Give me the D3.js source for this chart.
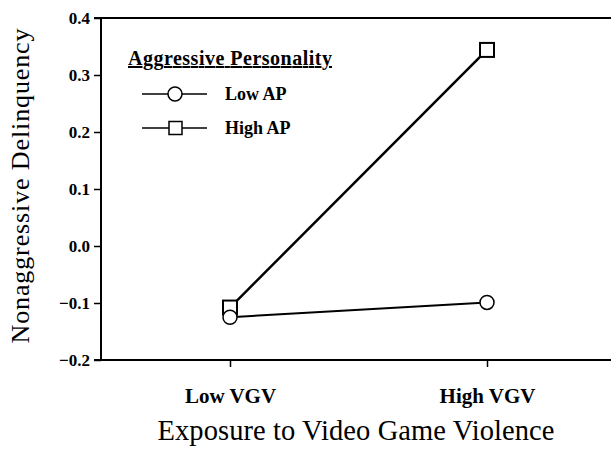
<!DOCTYPE html>
<html>
<head>
<meta charset="utf-8">
<script src="https://cdn.jsdelivr.net/npm/d3@7"></script>
<style>
  body { margin: 0; background: #fff; }
  svg text { font-family: "Liberation Serif", "DejaVu Serif", serif; }
</style>
</head>
<body>
<div id="chart"></div>
<script>
var categories = ["Low VGV", "High VGV"];
var seriesNames = ["Low AP", "High AP"];
var lowAP = [-0.125, -0.099];
var highAP = [-0.108, 0.344];
var yTicks = [-0.2, -0.1, 0.0, 0.1, 0.2, 0.3, 0.4];

var W = 611, H = 449;
var margin = {top: 18, right: 0, bottom: 89, left: 101};
var width = W - margin.left - margin.right,
    height = H - margin.top - margin.bottom;

var svg = d3.select("#chart").append("svg")
    .attr("width", W)
    .attr("height", H);

var g = svg.append("g")
    .attr("transform", "translate(" + margin.left + "," + margin.top + ")");

var x = d3.scalePoint().domain(categories).range([129, 386]);
var y = d3.scaleLinear().domain([-0.2, 0.4]).range([height, 0]);

// y axis
var yAxis = g.append("g")
    .call(d3.axisLeft(y).tickValues(yTicks).tickFormat(d3.format(".1f")).tickSize(7).tickPadding(4));
yAxis.select(".domain").attr("stroke-width", 2).attr("d", "M0," + (height + 1) + "V-1");
yAxis.selectAll("line").attr("stroke-width", 1.5);
yAxis.selectAll("text")
    .style("font-family", "'Liberation Serif', serif")
    .style("font-size", "17px").style("font-weight", "bold");

// top frame line
g.append("line")
    .attr("x1", -7).attr("x2", width)
    .attr("y1", 0).attr("y2", 0)
    .attr("stroke", "#000").attr("stroke-width", 2);

// x axis
var xAxis = g.append("g")
    .attr("transform", "translate(0," + height + ")")
    .call(d3.axisBottom(x).tickSize(7).tickPadding(21));
xAxis.select(".domain").attr("stroke-width", 2).attr("d", "M-7,0H" + width);
xAxis.selectAll("line").attr("stroke-width", 1.5);
xAxis.selectAll("text")
    .style("font-family", "'Liberation Serif', serif")
    .style("font-size", "21px").style("font-weight", "bold");

// lines
var line = d3.line()
    .x(function (d, i) { return x(categories[i]); })
    .y(function (d) { return y(d); });

g.append("path").datum(lowAP)
    .attr("d", line).attr("fill", "none").attr("stroke", "#000").attr("stroke-width", 2);
g.append("path").datum(highAP)
    .attr("d", line).attr("fill", "none").attr("stroke", "#000").attr("stroke-width", 2.5);

g.selectAll(".sq").data(highAP).enter().append("rect")
    .attr("x", function (d, i) { return x(categories[i]) - 7; })
    .attr("y", function (d) { return y(d) - 7; })
    .attr("width", 14).attr("height", 14)
    .attr("fill", "#fff").attr("stroke", "#000").attr("stroke-width", 2);

g.selectAll(".ci").data(lowAP).enter().append("circle")
    .attr("cx", function (d, i) { return x(categories[i]); })
    .attr("cy", function (d) { return y(d); })
    .attr("r", 7)
    .attr("fill", "#fff").attr("stroke", "#000").attr("stroke-width", 1.5);

// legend
var leg = svg.append("g");
leg.append("text")
    .attr("x", 128).attr("y", 65)
    .attr("font-size", 20).attr("font-weight", "bold")
    .attr("text-decoration", "underline")
    .attr("textLength", 204)
    .text("Aggressive Personality");

seriesNames.forEach(function (name, i) {
    var ly = 94 + i * 34;
    leg.append("line")
        .attr("x1", 142).attr("x2", 207).attr("y1", ly).attr("y2", ly)
        .attr("stroke", "#000").attr("stroke-width", 1.5);
    if (i === 0) {
        leg.append("circle").attr("cx", 175).attr("cy", ly).attr("r", 7)
            .attr("fill", "#fff").attr("stroke", "#000").attr("stroke-width", 1.5);
    } else {
        leg.append("rect").attr("x", 169).attr("y", ly - 6.5).attr("width", 13).attr("height", 13)
            .attr("fill", "#fff").attr("stroke", "#000").attr("stroke-width", 1.5);
    }
    leg.append("text")
        .attr("x", 225).attr("y", ly + 6)
        .attr("font-size", 18).attr("font-weight", "bold")
        .text(name);
});

// axis titles
svg.append("text")
    .attr("transform", "translate(29,186) rotate(-90)")
    .attr("text-anchor", "middle")
    .attr("font-size", 26)
    .attr("textLength", 315)
    .text("Nonaggressive Delinquency");

svg.append("text")
    .attr("x", 356).attr("y", 440)
    .attr("text-anchor", "middle")
    .attr("font-size", 28.5)
    .attr("textLength", 397)
    .text("Exposure to Video Game Violence");
</script>
</body>
</html>
